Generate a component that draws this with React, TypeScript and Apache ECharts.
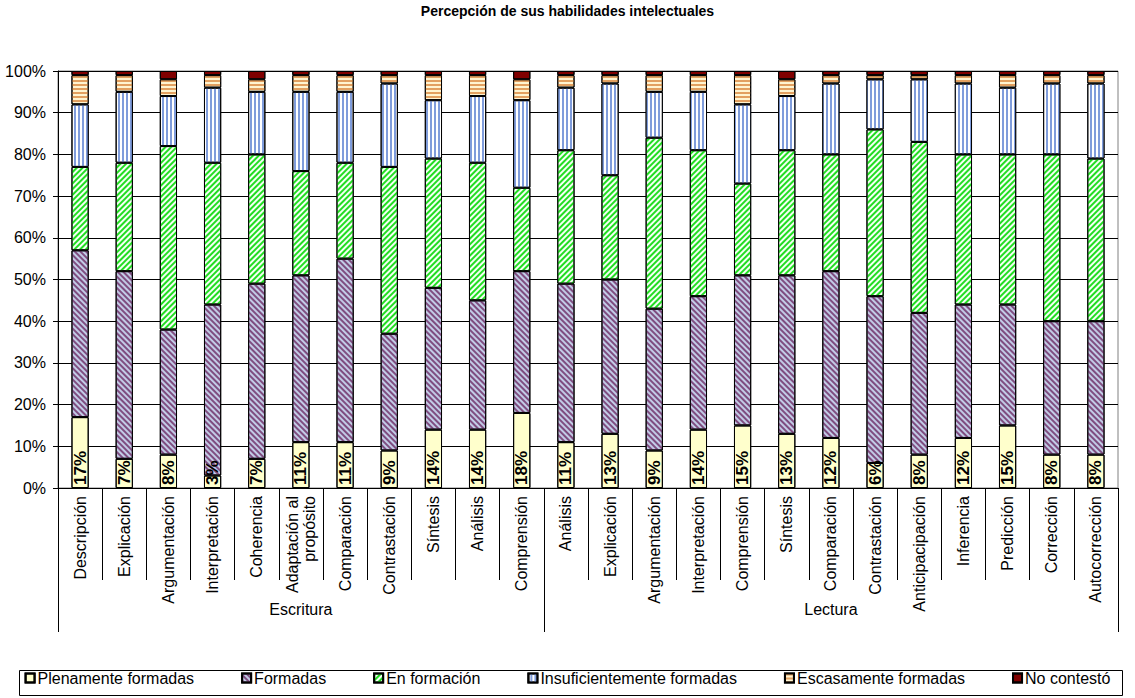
import React, { useEffect, useRef } from "react";
import * as echarts from "echarts";

const categories = [
  "Descripción", "Explicación", "Argumentación", "Interpretación", "Coherencia",
  "Adaptación al\npropósito", "Comparación", "Contrastación", "Síntesis", "Análisis",
  "Comprensión",
  "Análisis", "Explicación", "Argumentación", "Interpretación", "Comprensión",
  "Síntesis", "Comparación", "Contrastación", "Anticipacipación", "Inferencia",
  "Predicción", "Corrección", "Autocorrección",
];

const groupNames = ["Escritura", "Lectura"];
const groupSizes = [11, 13];

const yTicks = [0, 10, 20, 30, 40, 50, 60, 70, 80, 90, 100];

const plenamente = [17, 7, 8, 3, 7, 11, 11, 9, 14, 14, 18, 11, 13, 9, 14, 15, 13, 12, 6, 8, 12, 15, 8, 8];
const formadas = [40, 45, 30, 41, 42, 40, 44, 28, 34, 31, 34, 38, 37, 34, 32, 36, 38, 40, 40, 34, 32, 29, 32, 32];
const enFormacion = [20, 26, 44, 34, 31, 25, 23, 40, 31, 33, 20, 32, 25, 41, 35, 22, 30, 28, 40, 41, 36, 36, 40, 39];
const insuficientes = [15, 17, 12, 18, 15, 19, 17, 20, 14, 16, 21, 15, 22, 11, 14, 19, 13, 17, 12, 15, 17, 16, 17, 18];
const escasas = [7, 4, 4, 3, 3, 4, 4, 2, 6, 5, 5, 3, 2, 4, 4, 7, 4, 2, 1, 1, 2, 3, 2, 2];
const noContesto = [1, 1, 2, 1, 2, 1, 1, 1, 1, 1, 2, 1, 1, 1, 1, 1, 2, 1, 1, 1, 1, 1, 1, 1];

const FONT = "'Liberation Sans', Arial, Helvetica, sans-serif";

// first index of each group, and the index holding each group's label
const groupStarts: number[] = [];
const groupCenters: number[] = [];
{
  let acc = 0;
  groupSizes.forEach((n) => {
    groupStarts.push(acc);
    groupCenters.push(acc + Math.floor(n / 2));
    acc += n;
  });
}

// a pattern that paints nothing, for the plain-filled series
const noDecal = {
  symbol: "rect",
  symbolSize: 1,
  color: "rgba(0,0,0,0)",
  dashArrayX: [1, 0],
  dashArrayY: [1, 0],
};

export default function App() {
  const ref = useRef<HTMLDivElement>(null);

  useEffect(() => {
    if (!ref.current) return;
    const chart = echarts.init(ref.current, undefined, { renderer: "svg" });

    const border = { borderColor: "#000", borderWidth: 1 };

    const seriesDefs = [
      {
        name: "Plenamente formadas",
        data: plenamente,
        itemStyle: { color: "#FFFFCC", ...border, decal: noDecal },
        label: {
          show: true,
          position: "insideBottom",
          rotate: 90,
          align: "left",
          verticalAlign: "middle",
          distance: 3,
          formatter: "{c}%",
          fontFamily: FONT,
          fontWeight: "bold",
          fontSize: 17,
          color: "#000",
        },
      },
      {
        name: "Formadas",
        data: formadas,
        itemStyle: {
          color: "#C2CBE6",
          ...border,
          decal: {
            symbol: "rect",
            symbolSize: 1,
            color: "rgba(115, 55, 110, 0.85)",
            dashArrayX: [1, 0],
            dashArrayY: [1.3, 1.5],
            rotation: Math.PI / 4,
          },
        },
      },
      {
        name: "En formación",
        data: enFormacion,
        itemStyle: {
          color: "#F4FFF4",
          ...border,
          decal: {
            symbol: "rect",
            symbolSize: 1,
            color: "#22DD22",
            dashArrayX: [1, 0],
            dashArrayY: [1.5, 1.3],
            rotation: -Math.PI / 4,
          },
        },
      },
      {
        name: "Insuficientemente formadas",
        data: insuficientes,
        itemStyle: {
          color: "#FFFFFF",
          ...border,
          decal: {
            symbol: "rect",
            symbolSize: 1,
            color: "#7F9CDB",
            dashArrayX: [1, 0],
            dashArrayY: [1.2, 1.3],
            rotation: Math.PI / 2,
          },
        },
      },
      {
        name: "Escasamente formadas",
        data: escasas,
        itemStyle: {
          color: "#FFF4D0",
          ...border,
          decal: {
            symbol: "rect",
            symbolSize: 1,
            color: "#E2A060",
            dashArrayX: [1, 0],
            dashArrayY: [1.2, 1.4],
            rotation: 0,
          },
        },
      },
      {
        name: "No contestó",
        data: noContesto,
        itemStyle: { color: "#800000", ...border, decal: noDecal },
      },
    ];

    chart.setOption({
      animation: false,
      aria: { enabled: true, decal: { show: true } },
      title: {
        text: "Percepción de sus habilidades intelectuales",
        left: "center",
        top: 4,
        padding: 0,
        textStyle: { fontFamily: FONT, fontSize: 14, fontWeight: "bold", color: "#000" },
      },
      grid: {
        left: 58,
        right: 17,
        top: 71,
        bottom: 210,
        show: true,
        borderColor: "#808080",
        borderWidth: 1,
      },
      legend: {
        bottom: 7,
        left: "center",
        icon: "rect",
        itemWidth: 9,
        itemHeight: 9,
        itemGap: 47,
        textStyle: { fontFamily: FONT, fontSize: 16, color: "#000", padding: [0, 0, 0, -2] },
      },
      graphic: [
        {
          type: "rect",
          left: 17,
          top: 668,
          shape: { width: 1103, height: 25 },
          style: { fill: "none", stroke: "#000", lineWidth: 1 },
          silent: true,
        },
      ],
      xAxis: [
        {
          type: "category",
          data: categories,
          position: "bottom",
          axisLine: { lineStyle: { color: "#000" } },
          axisTick: { show: true, length: 92, lineStyle: { color: "#000" } },
          axisLabel: {
            interval: 0,
            rotate: 90,
            margin: 8,
            fontFamily: FONT,
            fontSize: 16,
            color: "#000",
            lineHeight: 17,
          },
        },
        {
          type: "category",
          data: categories,
          position: "bottom",
          axisLine: { show: false },
          axisTick: {
            show: true,
            length: 144,
            interval: (i: number) => groupStarts.includes(i),
            lineStyle: { color: "#000" },
          },
          axisLabel: {
            interval: (i: number) => groupCenters.includes(i),
            formatter: (_v: string, i: number) => {
              const g = groupCenters.indexOf(i);
              return g >= 0 ? groupNames[g] : "";
            },
            margin: 113,
            fontFamily: FONT,
            fontSize: 16,
            color: "#000",
          },
          splitLine: { show: false },
        },
      ],
      yAxis: {
        type: "value",
        min: yTicks[0],
        max: yTicks[yTicks.length - 1],
        interval: yTicks[1] - yTicks[0],
        axisLine: { show: true, lineStyle: { color: "#000" } },
        axisTick: { show: true, length: 5, lineStyle: { color: "#000" } },
        axisLabel: {
          formatter: "{value}%",
          margin: 12,
          fontFamily: FONT,
          fontSize: 16,
          color: "#000",
        },
        splitLine: { show: true, lineStyle: { color: "#000", width: 1 } },
      },
      series: seriesDefs.map((s) => ({
        type: "bar",
        stack: "total",
        barWidth: "39%",
        xAxisIndex: 0,
        ...s,
      })),
    } as any);

    return () => chart.dispose();
  }, []);

  return (
    <div
      ref={ref}
      style={{ position: "fixed", left: 0, top: 0, width: 1135, height: 698, background: "#fff" }}
    />
  );
}
